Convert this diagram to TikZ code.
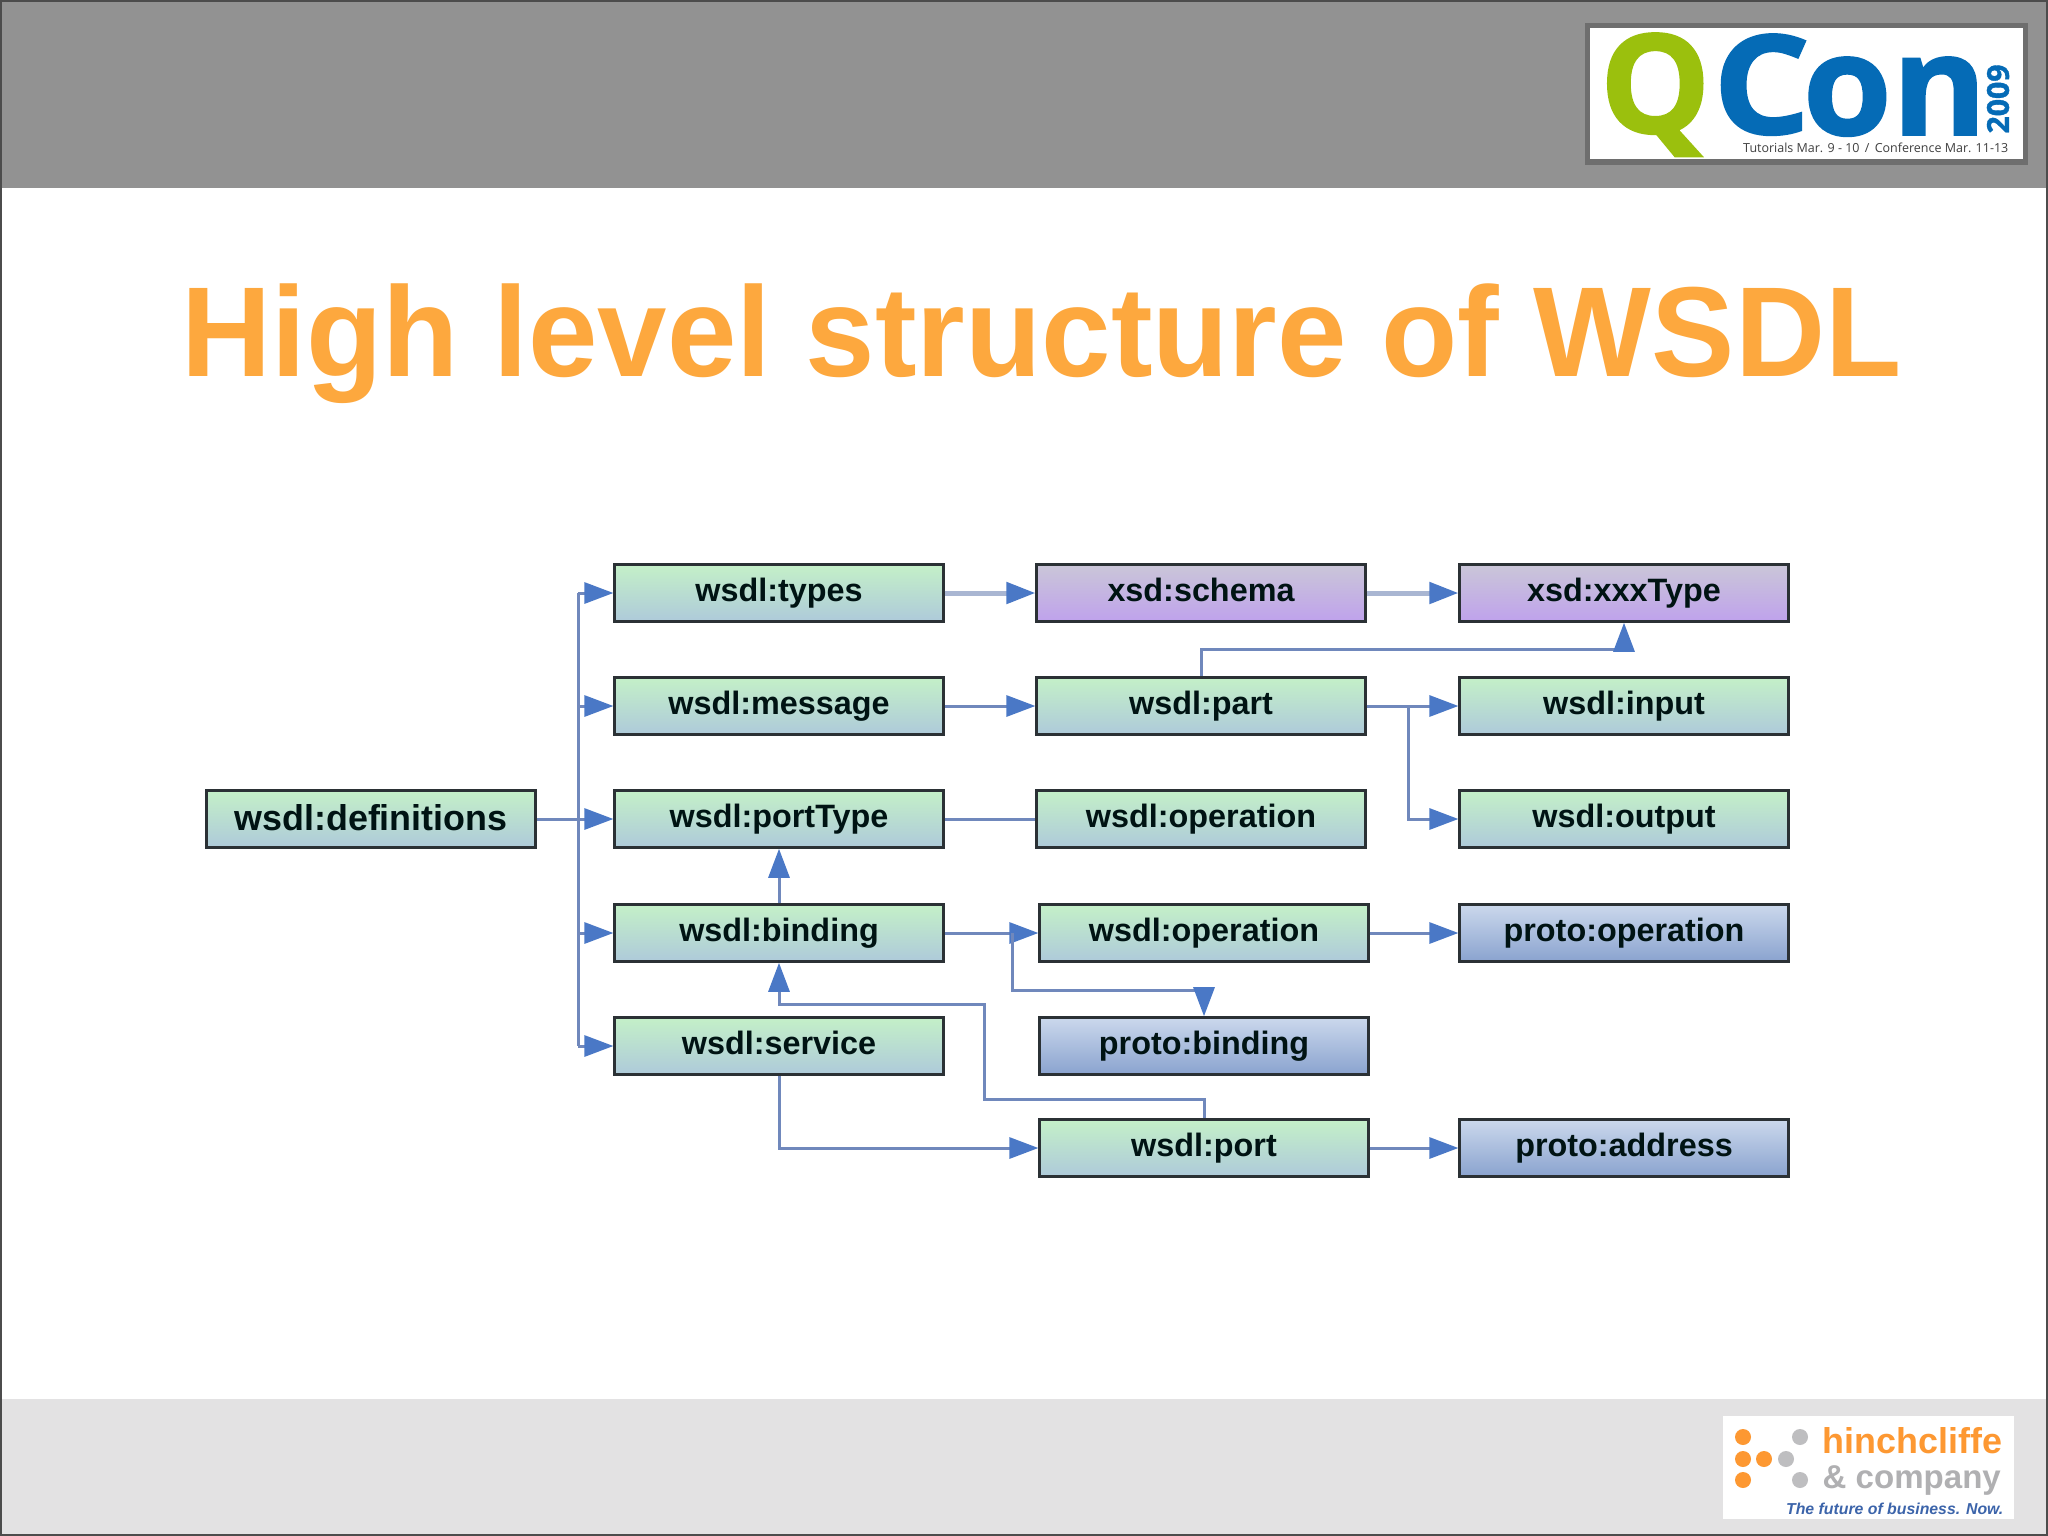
\documentclass[tikz,border=0pt]{standalone}
\usepackage{fontspec}
\setmainfont{Liberation Sans}
\newfontfamily\logofont[BoldFeatures={FakeBold=1.2}]{Open Sans}
\usetikzlibrary{arrows.meta,calc}
\definecolor{linecol}{HTML}{7088BC}
\definecolor{palecol}{HTML}{A9B6D2}
\definecolor{headcol}{HTML}{4A78C6}
\definecolor{edgecol}{HTML}{2B3135}
\definecolor{gtop}{HTML}{C4F0C8}
\definecolor{gbot}{HTML}{AECADA}
\definecolor{btop}{HTML}{CBD8EC}
\definecolor{bbot}{HTML}{8AA3CF}
\definecolor{ptop}{HTML}{CAC6D8}
\definecolor{pbot}{HTML}{BFA2EC}
\tikzset{
  x=0.01cm,y=-0.01cm,
  boxbase/.style={draw=edgecol,line width=0.03cm,minimum width=3.28cm,minimum height=0.565cm,inner sep=0pt,text height=7pt,text depth=2pt,font=\fontsize{9.2pt}{11pt}\selectfont\bfseries,text=black!85!teal,anchor=center},
  greenbox/.style={boxbase,top color=gtop,bottom color=gbot},
  bluebox/.style={boxbase,top color=btop,bottom color=bbot},
  purplebox/.style={boxbase,top color=ptop,bottom color=pbot},
  headtip/.style={-{Triangle[length=0.29cm,width=0.21cm,fill=headcol,color=headcol]}},
  conn/.style={draw=linecol,line width=0.03cm,headtip},
  paleconn/.style={draw=palecol,line width=0.05cm,headtip},
  plainconn/.style={draw=linecol,line width=0.03cm},
}
\begin{document}
\begin{tikzpicture}
\useasboundingbox (0,0) rectangle (2048,1536);
\fill[white] (0,0) rectangle (2048,1536);
\fill[fill={rgb,255:red,146;green,146;blue,146}] (0,0) rectangle (2048,188);
\fill[fill={rgb,255:red,227;green,226;blue,227}] (0,1399) rectangle (2048,1536);
\draw[black!70,line width=0.02cm] (1,1) rectangle (2047,1535);

% QCon logo
\fill[fill={rgb,255:red,110;green,110;blue,110}] (1585,23) rectangle (2028,165);
\fill[white] (1590,28) rectangle (2023,159);
\node[anchor=base west,inner sep=0pt,text={rgb,255:red,155;green,192;blue,13}] (qletter) at (1599,133) {\resizebox{1.11cm}{1.0cm}{\logofont\bfseries Q}};
\node[anchor=base west,inner sep=0pt,text={rgb,255:red,5;green,107;blue,182}] (cletter) at (1712,134) {\resizebox{0.98cm}{1.0cm}{\logofont\bfseries C}};
\node[anchor=base west,inner sep=0pt,text={rgb,255:red,5;green,107;blue,182}] (onword) at (1802,135) {\resizebox{1.84cm}{0.78cm}{\logofont\bfseries on}};
\node[rotate=90,anchor=center,inner sep=0pt,text={rgb,255:red,5;green,107;blue,182}] (yr) at (1998,99) {\fontsize{8.6pt}{9pt}\selectfont\logofont\bfseries 2009};
\node[anchor=base east,inner sep=0pt,text=black!75] (tut) at (2009,152) {\fontsize{3.55pt}{5pt}\selectfont\logofont Tutorials Mar. 9 - 10 \,/\, Conference Mar. 11-13};

% Title
\node[anchor=base west,inner sep=0pt,text={rgb,255:red,253;green,168;blue,62}] (title) at (181,376) {\scalebox{0.975}[1]{\fontsize{36.4pt}{40pt}\selectfont\bfseries High level structure of WSDL}};

% Boxes
\node[greenbox,font=\fontsize{10.2pt}{11pt}\selectfont\bfseries,text depth=0.6pt] (defs) at (371,819) {wsdl:definitions};
\node[greenbox] (types) at (779,593) {wsdl:types};
\node[greenbox] (message) at (779,706) {wsdl:message};
\node[greenbox] (porttype) at (779,819) {wsdl:portType};
\node[greenbox] (binding) at (779,933) {wsdl:binding};
\node[greenbox] (service) at (779,1046) {wsdl:service};
\node[purplebox] (schema) at (1201,593) {xsd:schema};
\node[greenbox] (part) at (1201,706) {wsdl:part};
\node[greenbox] (op1) at (1201,819) {wsdl:operation};
\node[greenbox] (op2) at (1204,933) {wsdl:operation};
\node[bluebox] (pbinding) at (1204,1046) {proto:binding};
\node[greenbox] (port) at (1204,1148) {wsdl:port};
\node[purplebox] (xxx) at (1624,593) {xsd:xxxType};
\node[greenbox] (input) at (1624,706) {wsdl:input};
\node[greenbox] (output) at (1624,819) {wsdl:output};
\node[bluebox] (poperation) at (1624,933) {proto:operation};
\node[bluebox] (paddress) at (1624,1148) {proto:address};

% Connectors
\coordinate (busA) at (578,593);
\coordinate (busB) at (578,1046);
\draw[plainconn] (busA) -- (busB);
\draw[plainconn] (defs.east) -- (578,819);
\draw[conn] (busA) -- (types.west);
\draw[conn] (578,706) -- (message.west);
\draw[conn] (578,819) -- (porttype.west);
\draw[conn] (578,933) -- (binding.west);
\draw[conn] (busB) -- (service.west);
\draw[paleconn] (types.east) -- (schema.west);
\draw[paleconn] (schema.east) -- (xxx.west);
\draw[conn] (message.east) -- (part.west);
\draw[conn] (part.east) -- (input.west);
\draw[conn] (1408,706) -- (1408,819) -- (output.west);
\draw[conn] (part.north) -- (1201,649) -- (1624,649) -- (xxx.south);
\draw[plainconn] (porttype.east) -- (op1.west);
\draw[conn] (binding.north) -- (porttype.south);
\draw[conn] (binding.east) -- (op2.west);
\draw[conn] (1012,933) -- (1012,990) -- (1204,990) -- (pbinding.north);
\draw[conn] (op2.east) -- (poperation.west);
\draw[conn] (service.south) -- (779,1148) -- (port.west);
\draw[conn] (port.east) -- (paddress.west);
\draw[conn] (port.north) -- (1204,1099) -- (984,1099) -- (984,1004) -- (779,1004) -- (binding.south);

% hinchcliffe logo
\fill[white] (1723,1416) rectangle (2014,1519);
\foreach \px/\py in {1743/1437,1743/1459,1743/1480,1764/1459}
  \fill[fill={rgb,255:red,253;green,152;blue,50}] (\px,\py) circle (0.08cm);
\foreach \px/\py in {1786/1459,1800/1437,1800/1480}
  \fill[fill={rgb,255:red,190;green,190;blue,192}] (\px,\py) circle (0.08cm);
\node[anchor=base west,inner sep=0pt,text={rgb,255:red,253;green,152;blue,50}] (hinch) at (1822,1453) {\fontsize{10.2pt}{11pt}\selectfont\bfseries hinchcliffe};
\node[anchor=base west,inner sep=0pt,text={rgb,255:red,176;green,176;blue,178}] (company) at (1822,1488) {\fontsize{9.4pt}{11pt}\selectfont\bfseries \& company};
\node[anchor=base east,inner sep=0pt,text={rgb,255:red,60;green,100;blue,170}] (future) at (2004,1514) {\fontsize{4.5pt}{6pt}\selectfont\bfseries\itshape The future of business. Now.};
\end{tikzpicture}
\end{document}
